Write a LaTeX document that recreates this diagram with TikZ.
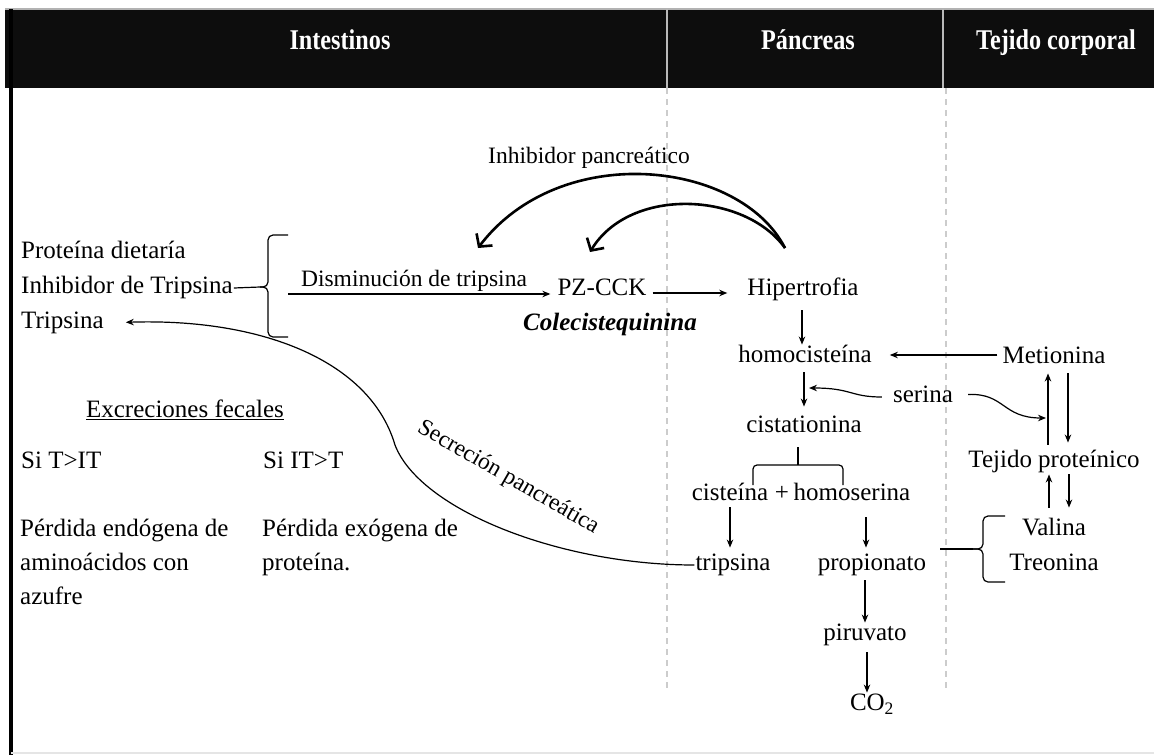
\documentclass[tikz,border=0pt]{standalone}
\usepackage{fontspec}
\setmainfont{Liberation Serif}
\usetikzlibrary{arrows.meta,calc}
\begin{document}
\begin{tikzpicture}[x=1pt,y=-1pt,
  every node/.style={inner sep=1pt},
  tx/.style={font=\fontsize{25}{34}\selectfont, text height=17pt, text depth=5.5pt},
  lb/.style={font=\fontsize{23.5}{27}\selectfont, text height=16pt, text depth=5pt},
  ml/.style={font=\fontsize{25}{34}\selectfont, align=left, anchor=north west, inner sep=0pt},
  hd/.style={font=\fontsize{25.5}{28}\selectfont\bfseries, text=white, anchor=base},
  arr/.style={-{Stealth[length=8pt,width=6.5pt]}, line width=1.2pt},
  ln/.style={line width=1.2pt},
  arcarr/.style={-{Straight Barb[length=9pt,width=20pt]}, line width=2.6pt},
  col/.style={draw=gray!40, dash pattern=on 6pt off 5pt, line width=1.3pt}]
\useasboundingbox (0,0) rectangle (1154,755);
\fill[white] (0,0) rectangle (1154,755);
% header
\fill[black!95] (5,9) rectangle (1154,88);
\draw[gray!60, line width=1.5pt] (5,9) -- (1154,9);
\draw[gray!55, line width=1.5pt] (667,9) -- (667,88);
\draw[gray!55, line width=1.5pt] (943,9) -- (943,88);
\node[hd] (h1) at (340,49) {\scalebox{0.95}[1.12]{Intestinos}};
\node[hd] (h2) at (808,49) {\scalebox{0.95}[1.12]{Páncreas}};
\node[hd] (h3) at (1056,49) {\scalebox{0.95}[1.12]{Tejido corporal}};
% column guides
\draw[col] (667,88) -- (667,690);
\draw[col] (946,88) -- (946,690);
% frame
\draw[line width=4pt] (11,9) -- (11,755);
\draw[gray!20, line width=1.5pt] (11,753) -- (1154,753);

% intestine list
\node[tx,anchor=west] (prot) at (20,253) {Proteína dietaría};
\node[tx,anchor=west] (inh) at (20,288) {Inhibidor de Tripsina};
\node[tx,anchor=west] (tri1) at (20,323) {Tripsina};
\coordinate (btip) at (260,287);
\draw[ln] (inh.east) -- (btip);
\draw[ln, rounded corners=5pt] (288,235) -- (268,235) -- (268,287) -- (btip);
\draw[ln, rounded corners=5pt] (btip) -- (268,287) -- (268,337) -- (288,337);

% top row
\node[tx] (pz) at (602,290) {PZ-CCK};
\node[lb, font=\fontsize{25}{28}\selectfont\bfseries\itshape] (cck) at (610,325) {Colecistequinina};
\node[tx] (hip) at (803,290) {Hipertrofia};
\coordinate (dstart) at (288,294);
\draw[arr, shorten >=6pt] (dstart) -- (dstart -| pz.west);
\node[lb, anchor=south] (dis) at (414,293) {Disminución de tripsina};
\draw[arr, shorten <=5pt, shorten >=19pt] (pz.east) ++(0,3) coordinate (pze) -- (pze -| hip.west);

% inhibitor arcs
\node[lb] (ip) at (589,158) {Inhibidor pancreático};
\coordinate (as) at (785,248);
\coordinate (ae1) at (478,248);
\coordinate (ae2) at (590,252);
\draw[arcarr] (as) .. controls (740,160) and (560,140) .. (ae1);
\draw[arcarr] (as) .. controls (745,192) and (630,186) .. (ae2);

% pancreas chain
\node[tx] (homo) at (805,357) {homocisteína};
\node[tx] (met) at (1054,358) {Metionina};
\node[tx] (ser) at (923,397) {serina};
\node[tx] (cist) at (804,427) {cistationina};
\node[tx] (tej) at (1054,462) {Tejido proteínico};
\node[tx] (cis) at (730,495) {cisteína};
\node[tx] (plus) at (782,495) {+};
\node[tx] (homs) at (852,495) {homoserina};
\node[tx] (val) at (1054,530) {Valina};
\node[tx] (treo) at (1054,565) {Treonina};
\node[tx] (trp) at (733,565) {tripsina};
\node[tx] (prop) at (872,565) {propionato};
\node[tx] (piru) at (865,635) {piruvato};
\node[tx] (co) at (872,705) {CO\textsubscript{2}};

\draw[arr, shorten <=8pt] (hip.south) ++(-1,0) coordinate (hs) -- (hs |- homo.north);
\draw[arr, shorten <=4pt, shorten >=17pt] (met.west) ++(0,-3) coordinate (mw) -- (mw -| homo.east);
\draw[arr, shorten <=3pt, shorten >=8pt] (cist.north |- homo.south) -- (cist.north);
\coordinate (sl) at (809,388);
\draw[arr, shorten <=10pt] (ser.west) .. controls (850,397) and (852,388) .. (sl);
\coordinate (sr) at (1046,418);
\draw[arr, shorten <=14pt] (ser.east) ++(0,-2) coordinate (se) .. controls (1005,393) and (1002,418) .. (sr);
\draw[arr, shorten <=5pt, shorten >=3pt] ([xshift=-6pt]tej.north) -- ([xshift=-6pt]met.south);
\draw[arr, shorten <=3pt, shorten >=7pt] ([xshift=14pt]met.south) -- ([xshift=14pt]tej.north);
\draw[arr, shorten <=10pt] ([xshift=-5pt]val.north) -- ([xshift=-5pt]tej.south);
\draw[arr, shorten >=10pt] ([xshift=15pt]tej.south) -- ([xshift=15pt]val.north);
% bracket under cistationina
\coordinate (bk) at (798,465);
\draw[ln, shorten <=8pt] (bk |- cist.south) -- (bk);
\draw[ln, rounded corners=4pt] (753,485) -- (753,465) -- (843,465) -- (843,485);
\draw[arr, shorten >=5pt] (cis.south) -- (cis.south |- trp.north);
\draw[arr, shorten <=10pt, shorten >=5pt] ([xshift=14pt]homs.south) -- ([xshift=14pt]homs.south |- prop.north);
\draw[arr, shorten <=3pt] (piru.north |- prop.south) -- (piru.north);
\draw[arr, shorten <=5pt] (piru.south) ++(2,0) coordinate (ps) -- (ps |- co.north);
% right brace
\coordinate (rb) at (973,549);
\draw[ln, shorten <=13pt] (prop.east |- rb) -- (rb);
\draw[ln, rounded corners=5pt] (1005,516) -- (983,516) -- (983,549) -- (rb);
\draw[ln, rounded corners=5pt] (rb) -- (983,549) -- (983,582) -- (1005,582);

% secretion
\draw[arr, shorten >=21pt] (trp.west) .. controls (560,565) and (420,510) .. (395,445)
   .. controls (370,360) and (260,318) .. (tri1.east);
\node[lb, rotate=-30] (sec) at (508,478) {Secreción pancreática};

% faecal
\node[tx] (exc) at (185,412) {\underline{Excreciones fecales}};
\node[tx,anchor=west] (si1) at (20,463) {Si T>IT};
\node[tx,anchor=west] (si2) at (262,463) {Si IT>T};
\node[ml] (pe1) at (20,519) {Pérdida endógena de\\aminoácidos con\\azufre};
\node[ml] (pe2) at (262,519) {Pérdida exógena de\\proteína.};
\end{tikzpicture}
\end{document}
